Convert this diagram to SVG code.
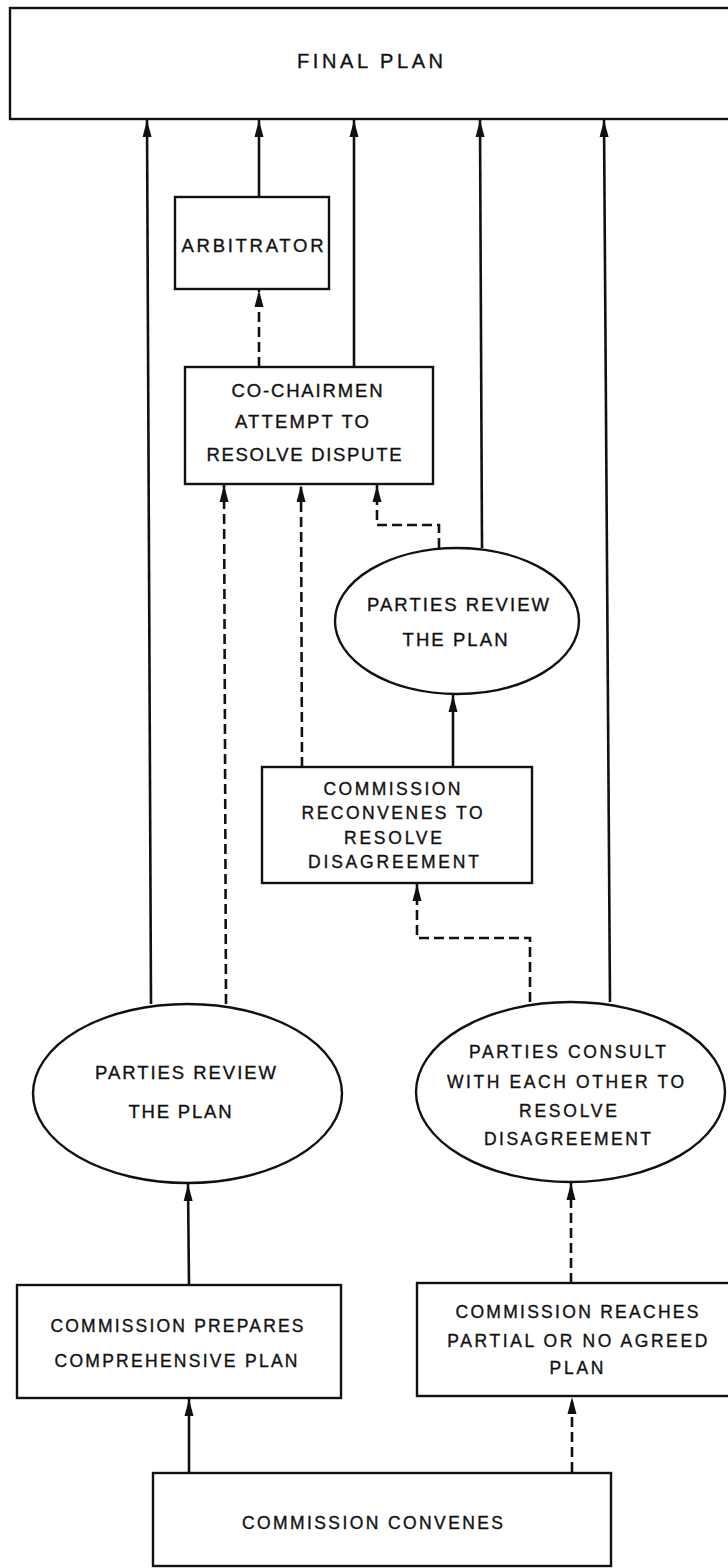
<svg xmlns="http://www.w3.org/2000/svg" width="728" height="1568" viewBox="0 0 728 1568">
<style>
  .box { fill: #fff; stroke: #111; stroke-width: 2.4; }
  .t { font-family: "Liberation Sans", Arial, sans-serif; font-size: 17.5px; fill: #111; stroke: #111; stroke-width: 0.35; text-anchor: middle; }
  .t18 { font-size: 18.5px; }
  .t19 { font-size: 20px; }
  .solid { fill: none; stroke: #111; stroke-width: 2.6; }
  .dash { fill: none; stroke: #111; stroke-width: 2.6; stroke-dasharray: 10 5; }
</style>
<defs>
  <marker id="ah" viewBox="0 0 17 10" refX="17" refY="5" markerWidth="17" markerHeight="10" markerUnits="userSpaceOnUse" orient="auto">
    <path d="M0,0.5 L17,5 L0,9.5 Z" fill="#111"/>
  </marker>
</defs>
<rect width="728" height="1568" fill="#fff"/>

<g id="connectors">
  <path class="solid" d="M151,1004 L147,120" marker-end="url(#ah)"/>
  <path class="solid" d="M259,197 L259,120" marker-end="url(#ah)"/>
  <path class="solid" d="M354,367 L354,120" marker-end="url(#ah)"/>
  <path class="solid" d="M482,548 L480,120" marker-end="url(#ah)"/>
  <path class="solid" d="M610,1002 L604,120" marker-end="url(#ah)"/>
  <path class="dash" d="M259,367 L259,290" marker-end="url(#ah)"/>
  <path class="dash" d="M226,1004 L224,485" marker-end="url(#ah)"/>
  <path class="dash" d="M302,767 L301,485" marker-end="url(#ah)"/>
  <path class="dash" d="M439,548 L439,525 L377,525 L377,485" marker-end="url(#ah)"/>
  <path class="solid" d="M453,767 L453,695" marker-end="url(#ah)"/>
  <path class="dash" d="M530,1002 L530,938 L417,938 L417,884" marker-end="url(#ah)"/>
  <path class="solid" d="M189,1285 L188,1184" marker-end="url(#ah)"/>
  <path class="dash" d="M571,1283 L571,1183" marker-end="url(#ah)"/>
  <path class="solid" d="M189,1474 L189,1399" marker-end="url(#ah)"/>
  <path class="dash" d="M572,1472 L572,1397" marker-end="url(#ah)"/>
</g>

<g id="final-plan">
  <rect class="box" x="10" y="8" width="730" height="111"/>
  <text class="t t19" x="370" y="68" textLength="146" lengthAdjust="spacing">FINAL PLAN</text>
</g>

<g id="arbitrator">
  <rect class="box" x="175" y="197" width="154" height="92"/>
  <text class="t t18" x="252.5" y="252" textLength="142" lengthAdjust="spacing">ARBITRATOR</text>
</g>

<g id="co-chairmen">
  <rect class="box" x="185" y="367" width="248" height="117"/>
  <text class="t t18" x="307" y="397" textLength="151" lengthAdjust="spacing">CO-CHAIRMEN</text>
  <text class="t t18" x="302" y="428" textLength="134" lengthAdjust="spacing">ATTEMPT TO</text>
  <text class="t t18" x="304" y="461" textLength="195" lengthAdjust="spacing">RESOLVE DISPUTE</text>
</g>

<g id="parties-review-2">
  <ellipse class="box" cx="457" cy="621" rx="122" ry="73"/>
  <text class="t t18" x="458" y="611" textLength="182" lengthAdjust="spacing">PARTIES REVIEW</text>
  <text class="t t18" x="455" y="646" textLength="105" lengthAdjust="spacing">THE PLAN</text>
</g>

<g id="commission-reconvenes">
  <rect class="box" x="262" y="767" width="270" height="116"/>
  <text class="t" x="392" y="795" textLength="137" lengthAdjust="spacing">COMMISSION</text>
  <text class="t" x="392" y="819" textLength="181" lengthAdjust="spacing">RECONVENES TO</text>
  <text class="t" x="393" y="844" textLength="98" lengthAdjust="spacing">RESOLVE</text>
  <text class="t" x="393.5" y="868" textLength="171" lengthAdjust="spacing">DISAGREEMENT</text>
</g>

<g id="parties-review-1">
  <ellipse class="box" cx="187.5" cy="1093.5" rx="154.5" ry="89.5"/>
  <text class="t t18" x="185.5" y="1079" textLength="181" lengthAdjust="spacing">PARTIES REVIEW</text>
  <text class="t t18" x="180" y="1118" textLength="103" lengthAdjust="spacing">THE PLAN</text>
</g>

<g id="parties-consult">
  <ellipse class="box" cx="570.5" cy="1092" rx="154.5" ry="90"/>
  <text class="t" x="567.5" y="1058" textLength="197" lengthAdjust="spacing">PARTIES CONSULT</text>
  <text class="t" x="565.5" y="1088" textLength="237" lengthAdjust="spacing">WITH EACH OTHER TO</text>
  <text class="t" x="568" y="1117" textLength="98" lengthAdjust="spacing">RESOLVE</text>
  <text class="t" x="567.5" y="1145" textLength="167" lengthAdjust="spacing">DISAGREEMENT</text>
</g>

<g id="commission-prepares">
  <rect class="box" x="17" y="1285" width="324" height="113"/>
  <text class="t" x="177" y="1332" textLength="253" lengthAdjust="spacing">COMMISSION PREPARES</text>
  <text class="t" x="176" y="1367" textLength="243" lengthAdjust="spacing">COMPREHENSIVE PLAN</text>
</g>

<g id="commission-reaches">
  <rect class="box" x="417" y="1283" width="323" height="113"/>
  <text class="t" x="577" y="1318" textLength="243" lengthAdjust="spacing">COMMISSION REACHES</text>
  <text class="t" x="577.3" y="1347" textLength="260" lengthAdjust="spacing">PARTIAL OR NO AGREED</text>
  <text class="t" x="576.5" y="1374" textLength="54" lengthAdjust="spacing">PLAN</text>
</g>

<g id="commission-convenes">
  <rect class="box" x="153" y="1473" width="458" height="93"/>
  <text class="t" x="372.5" y="1529" textLength="261" lengthAdjust="spacing">COMMISSION CONVENES</text>
</g>
</svg>
